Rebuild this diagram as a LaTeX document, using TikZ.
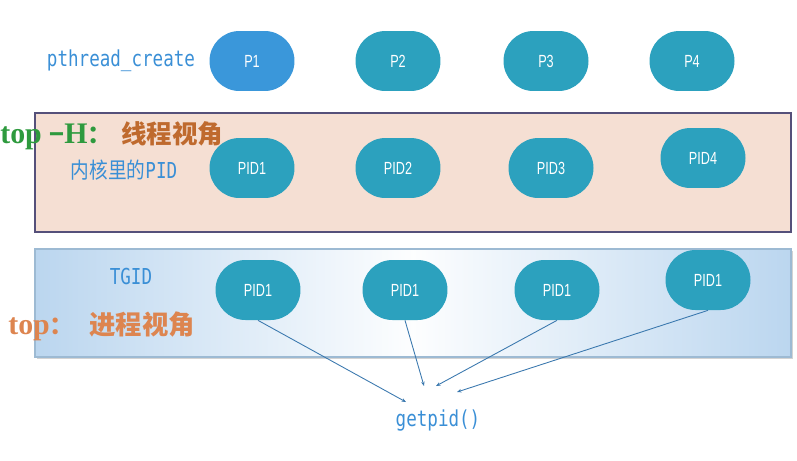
\documentclass[tikz,border=0pt]{standalone}
\usepackage{fontspec}
\setmainfont{Liberation Serif}
\newfontfamily\cjk{Noto Sans CJK SC}
\newfontfamily\cjknarrow[FakeStretch=0.85]{Noto Sans CJK SC}
\newfontfamily\nodefont[FakeStretch=0.72]{Liberation Sans}
\newfontfamily\labelfont[FakeStretch=0.8]{DejaVu Sans Mono}
\usetikzlibrary{arrows.meta, positioning, shadows}

\definecolor{procblue}{HTML}{3A97DA}
\definecolor{procteal}{HTML}{2CA1BE}
\definecolor{labelblue}{HTML}{3A8FD6}
\definecolor{kernfill}{HTML}{F5DFD3}
\definecolor{kernline}{HTML}{55507A}
\definecolor{tgidside}{HTML}{BBD6EF}
\definecolor{tgidline}{HTML}{9DBAD3}
\definecolor{linkblue}{HTML}{3A78AE}
\definecolor{topgreen}{HTML}{2E9A3E}
\definecolor{topbrown}{HTML}{BF6A2E}
\definecolor{toporange}{HTML}{DD8550}

\begin{document}
\begin{tikzpicture}[
  x=0.02cm, y=-0.02cm,
  proc/.style={rounded corners=17pt, fill=procteal, minimum width=1.7cm,
    minimum height=1.2cm, inner sep=0pt, text=white,
    font=\nodefont\fontsize{10}{12}\selectfont},
  lbl/.style={text=labelblue, inner sep=0pt, font=\labelfont\fontsize{12.5}{14}\selectfont},
  view/.style={inner sep=0pt, font=\bfseries\fontsize{17}{19}\selectfont},
  link/.style={draw=linkblue, line width=0.5pt, -{Stealth[length=2.5pt,width=2pt]}}
]
\useasboundingbox (0,0) rectangle (797,460);

\draw[kernline, line width=0.8pt, fill=kernfill] (35,113) rectangle (791,232);
\draw[tgidline, line width=0.6pt, left color=tgidside, right color=tgidside,
  middle color=white!97!tgidside,
  drop shadow={shadow xshift=1pt, shadow yshift=-1.2pt, opacity=0.35}]
  (35,249) rectangle (791,357);

\node[lbl] (create) at (121,61) {pthread\_create};
\node[proc, fill=procblue] (p1) at (252,61) {P1};
\node[proc] (p2) at (398,61) {P2};
\node[proc] (p3) at (546,61) {P3};
\node[proc] (p4) at (692,61) {P4};

\node[view, anchor=base west] (toph) at (0,143)
  {\textcolor{topgreen}{top {\fontsize{14}{16}\selectfont\cjk −}H{\fontsize{14}{16}\selectfont\cjk ：}}%
   \hspace{0.3em}\textcolor{topbrown}{\fontsize{14.5}{16}\selectfont\cjk 线程视角}};
\node[lbl] (kernel) at (124,170) {{\cjknarrow 内核里的}PID};
\node[proc] (k1) at (252,168) {PID1};
\node[proc] (k2) at (398,168) {PID2};
\node[proc] (k3) at (551,168) {PID3};
\node[proc] (k4) at (703,158) {PID4};

\node[lbl] (tgid) at (131,276) {TGID};
\node[view, anchor=base west, text=toporange] (top) at (8,334)
  {top{\fontsize{14}{16}\selectfont\cjk ：}\hspace{0.5em}{\fontsize{15}{16}\selectfont\cjk 进程视角}};
\node[proc] (t1) at (258,290) {PID1};
\node[proc] (t2) at (405,290) {PID1};
\node[proc] (t3) at (557,290) {PID1};
\node[proc] (t4) at (708,280) {PID1};

\node[lbl] (getpid) at (438,421) {getpid()};
\coordinate (g1) at (406,402);
\coordinate (g2) at (424,386);
\coordinate (g3) at (436,386);
\coordinate (g4) at (457,392);

\draw[link] (t1.south) -- (g1);
\draw[link] (t2.south) -- (g2);
\draw[link] (t3.south) -- (g3);
\draw[link] (t4.south) -- (g4);
\end{tikzpicture}
\end{document}
